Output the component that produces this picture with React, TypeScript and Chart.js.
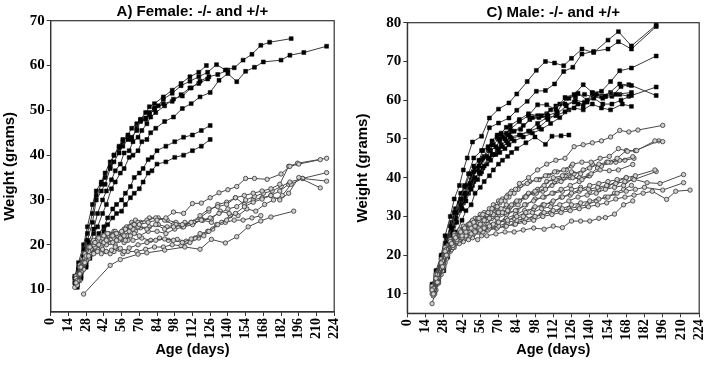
import React, { useEffect, useRef } from 'react';
import { Chart, registerables } from 'chart.js';
Chart.register(...registerables);

type Pt = [number, number];

const SANS = '"Liberation Sans", Arial, sans-serif';
const SERIF = '"Liberation Serif", "Times New Roman", serif';

// ---------- Female: filled squares ----------
const femaleSq1: Pt[] = [[19,11.5],[22,14.5],[26,17.5],[29,21],[33,25],[36,30],[40,32],[43,33.5],[47,37],[50,38.5],[54,40.5],[57,42],[61,43.5],[64,44],[68,45.5],[71,47.8],[75,48.3],[78,49.5],[82,50.5],[85,51],[89,52.5],[96,53.8],[103,55.5],[110,56.5],[117,57.5],[124,58.5],[131,60.2],[138,59],[145,59.5],[152,61.2],[159,62.5],[166,64.5],[173,65.2],[190,66]];
const femaleSq2: Pt[] = [[20,11],[23,13],[27,16],[30,19.5],[34,22.5],[37,24],[41,27],[44,29],[48,32.5],[51,34],[55,36],[58,37],[62,39.5],[65,40],[69,41],[72,43],[76,43.5],[79,45],[83,46],[90,47.5],[97,48.5],[104,50.4],[111,51.5],[118,53],[126,54],[133,56.7],[140,58.2],[147,56.4],[154,58.7],[161,59.6],[168,60.8],[182,61.2],[189,62.3],[200,62.9],[218,64.3]];
const femaleSq3: Pt[] = [[19,12.5],[22,15],[26,19],[29,22.5],[33,27],[36,31],[40,33.5],[43,35],[47,37.5],[50,40],[54,42],[57,43.5],[61,44],[64,43.5],[68,46],[71,48],[75,49.5],[78,50.8],[82,51.5],[89,53],[96,54.5],[103,56],[110,57.5],[117,58.5],[123,60]];
const femaleSq4: Pt[] = [[20,12],[23,14],[27,17],[30,20.5],[34,23.5],[37,27],[41,30],[44,32],[48,34.5],[51,36.5],[55,38],[58,40.5],[62,41],[65,43],[69,44],[72,45.5],[76,47],[79,48.5],[83,49.5],[90,51],[97,52.5],[104,53.2],[111,55],[118,56.5],[125,57.5],[132,58],[140,59]];
const femaleSq5: Pt[] = [[21,11],[24,13],[28,15.5],[31,18],[35,20.5],[38,22.5],[42,24],[45,26],[49,28],[52,29],[56,30],[59,31.5],[63,33],[66,35],[70,36],[73,37],[77,39],[80,39.5],[84,41],[91,42],[98,43],[105,44],[112,44.5],[119,45.5],[126,46.6]];
const femaleSq6: Pt[] = [[21,10.5],[24,12.5],[28,15],[31,17],[35,19.5],[38,21],[42,23],[45,24.5],[49,26],[52,27],[56,27.5],[59,29],[63,30.5],[66,31.5],[70,32.5],[73,34],[77,36],[80,36.5],[84,38],[91,38.5],[98,39.5],[105,40],[112,41],[119,42],[126,43.5]];
const femaleSq7: Pt[] = [[19,13],[22,16],[26,20],[29,24],[33,29],[36,32],[40,34],[43,36],[47,38.5],[50,40],[54,41.5],[57,43],[61,44.5],[64,46],[68,47],[71,47.5],[75,48],[78,49],[82,50.2],[89,51.5],[96,52],[103,53.5],[110,55],[117,56],[124,57]];

// ---------- Female: open circles ----------
const femaleCirc1: Pt[] = [[26,9],[47,15.4],[55,16.7],[69,17.9],[76,18.2],[90,18.8],[106,19.5],[118,19],[127,21.2],[138,20.4],[147,21.8],[156,24],[166,25.3],[174,26.2],[192,27.5]];
const femaleCirc2: Pt[] = [[20,11.5],[23,13.5],[27,16],[30,17.5],[34,18],[37,18.5],[41,19],[44,18.5],[48,18.8],[51,19.5],[55,19.2],[58,18.5],[62,19.3],[69,20],[76,20.5],[83,21],[90,21.3],[97,21],[104,20.5],[111,21.3],[118,22.5],[125,23],[132,24.5],[139,25.5],[146,27],[153,28.5],[160,29.5],[167,30.2],[174,31],[181,30],[188,31.5],[196,35],[213,32.7]];
const femaleCirc3: Pt[] = [[21,12],[24,15],[28,17.5],[31,19.5],[35,20.5],[38,21.5],[42,22],[45,22.5],[49,22],[52,22.5],[56,23],[59,23.5],[63,24],[66,24.5],[70,24.5],[77,25],[84,25.5],[91,26],[97,27.3],[105,27],[112,29.2],[119,29.3],[126,30.5],[133,31.6],[140,32.3],[147,33],[154,34.8],[161,34.8],[171,34.6],[182,35.8],[189,37.5],[196,38],[213,39]];
const femaleCirc4: Pt[] = [[20,12.5],[23,15],[27,17],[30,18.5],[34,20],[37,21],[41,21.5],[44,21],[48,22],[51,22.5],[55,21.5],[58,22],[62,23],[65,23.5],[69,24],[76,23.5],[83,24.5],[90,23.5],[97,24],[104,24.5],[111,25],[118,26.5],[125,28],[132,28.5],[139,29],[146,30.5],[153,31],[160,31.5],[167,32],[174,32.5],[181,33.5],[188,37.5],[195,38.2],[218,39.3]];
const femaleCirc5: Pt[] = [[21,11],[24,14],[28,16.5],[31,18],[35,19.5],[38,20],[42,20.5],[45,21],[49,20.5],[52,21],[56,21.5],[59,21],[63,22],[66,22.5],[70,22],[77,23],[84,23],[91,22.5],[98,23.5],[105,24],[112,24.5],[119,25.5],[126,26],[133,27],[140,28],[147,28.5],[154,30],[161,30.8],[168,31.5],[175,32],[182,33],[189,34],[199,34.8],[218,36.1]];
const femaleCirc6: Pt[] = [[22,12],[25,15.5],[29,17.5],[32,19],[36,20],[39,21],[43,21.5],[46,22],[50,21.5],[53,22],[57,22.5],[60,22],[64,23.5],[67,23],[71,23.8],[78,24],[85,24.5],[92,24],[99,24.5],[106,25],[113,25],[120,25.5],[127,25.8],[134,27.5],[141,27],[148,26.5],[155,28],[162,27.5],[169,29],[176,30],[183,31],[190,33.5],[199,34.8],[218,34.2]];
const femaleCirc7: Pt[] = [[20,13],[23,15.5],[27,18],[30,19.5],[34,21],[37,21.5],[41,22],[44,22.5],[48,22],[51,23],[55,22.5],[58,23.5],[62,24],[65,24.5],[69,25],[76,25.5],[83,26],[90,25.5],[97,24.5],[104,24],[111,25],[118,26],[125,27.5],[132,29],[139,29.5],[146,30.5],[153,29],[160,30],[167,30.5],[174,31],[181,32],[188,33.5]];
const femaleCirc8: Pt[] = [[22,13],[25,16],[29,18],[32,19.5],[36,21],[39,21.5],[43,22],[46,22.5],[50,23],[53,22.5],[57,23],[60,24],[64,25],[67,25.5],[71,25],[78,26],[85,26],[92,25.5],[99,25],[106,24.5],[113,25],[120,25.5],[127,25]];
const femaleCirc9: Pt[] = [[23,12],[26,14.5],[30,17],[33,18],[37,19],[40,19.5],[44,20],[47,20.5],[51,20],[54,21],[58,20.5],[61,21],[65,21],[72,21.5],[79,21],[86,21.5],[93,21],[100,21.2],[107,20.8],[114,21.5],[121,22],[128,23.5],[135,25],[142,26.5]];
const femaleCirc10: Pt[] = [[19,10.5],[22,13],[26,15.5],[29,17],[33,18],[36,18.5],[40,18],[43,18.5],[47,18],[50,18.5],[54,19],[57,18],[61,18.5],[68,18.5],[75,19],[82,19.5],[89,19.5],[96,20],[103,19.8],[110,20.5],[117,21.5],[124,23],[131,24.5],[138,25],[145,25.5],[152,25.5],[159,26],[166,26.5]];

// ---------- Male: filled squares ----------
const maleSq1: Pt[] = [[19,12],[22,16],[26,20],[29,25],[33,30],[36,34.5],[40,38],[43,42],[46,45.1],[50,49.2],[57,50.7],[63,55.4],[70,57.7],[78,59.3],[84,61.6],[92,64.8],[99,67.7],[106,70],[113,69.6],[120,68.9],[126,70.8],[134,73.2],[143,72.3],[154,75.5],[162,77.7],[172,74],[191,79.4]];
const maleSq2: Pt[] = [[20,11.5],[23,15],[27,19],[30,23],[34,27],[37,31],[41,34.5],[44,38],[47,41],[51,45.1],[57,47],[63,52.9],[70,54.1],[78,55.4],[84,57.4],[92,59.7],[99,62.3],[106,62.5],[113,64.2],[120,67.4],[127,68.5],[134,71.9],[143,72.6],[154,73.2],[162,75.1],[172,73.2],[191,79]];
const maleSq3: Pt[] = [[20,11],[23,14],[27,18],[30,21.5],[34,26],[37,29.5],[41,33],[44,36],[48,38.5],[51,41.5],[55,43],[58,45],[62,47.5],[65,48.5],[69,50.5],[72,51.2],[76,51.5],[79,52.5],[86,54.5],[93,56],[100,58.8],[107,58.8],[114,57.6],[121,60.7],[128,61.5],[135,64],[142,62],[149,62.3],[156,64.8],[163,67.6],[172,68.3],[191,71.4]];
const maleSq4: Pt[] = [[19,12.5],[22,15],[26,19.5],[29,23],[33,27.5],[36,31],[40,33.5],[43,36],[47,38],[50,40.5],[54,42.5],[57,44.5],[61,45.5],[64,47],[68,48],[71,49.5],[75,50],[78,51],[82,52],[89,53.5],[96,55.5],[103,56],[110,57.5],[117,59],[124,60.5],[131,61.8],[138,60],[145,61.5],[152,61],[163,64.2],[172,63.8],[191,61.2]];
const maleSq5: Pt[] = [[21,11],[24,13.5],[28,17],[31,21],[35,25],[38,28.5],[42,32],[45,34],[49,37],[52,40],[56,41],[59,43],[63,45],[66,46],[70,47.5],[73,48],[77,49],[80,50],[87,51],[94,52],[101,53],[108,55],[115,56.5],[122,58.5],[129,60],[136,59.5],[143,60.5],[150,59],[157,59],[164,60],[172,61.2],[191,63.4]];
const maleSq6: Pt[] = [[20,12],[23,14.5],[27,18.5],[30,22],[34,26.5],[37,30],[41,32],[44,35],[48,37.5],[51,39],[55,41.5],[58,42.5],[62,45],[65,46],[69,47],[72,48.5],[76,49.5],[79,50.5],[86,51],[93,52],[100,54],[107,55.5],[114,56],[121,57],[128,58],[135,57.5],[142,59],[149,58],[156,57.5],[165,59],[172,58.4]];
const maleSq7: Pt[] = [[21,10.5],[24,13],[28,16],[31,19.5],[35,23],[38,26],[42,29],[45,31.5],[49,33],[52,36],[56,37.5],[59,39],[63,40.5],[66,42],[70,43.5],[73,44.5],[77,45.5],[80,46.5],[84,47.5],[91,49],[98,50.5],[106,48.6],[111,50.7],[118,50.8],[124,51]];
const maleSq8: Pt[] = [[19,11],[22,14],[26,17.5],[29,21],[33,25],[36,28.5],[40,31.5],[43,33.5],[47,36],[50,38],[54,39.5],[57,41.5],[61,43.5],[64,44.5],[68,46],[71,46.5],[75,47.5],[78,48.5],[82,49.5],[89,50.5],[96,51.5],[103,52.5],[110,54],[117,55.5],[124,57.5],[131,59],[138,59.5],[145,61.5],[152,61],[160,61.5],[172,62]];
const maleSq9: Pt[] = [[20,12.5],[23,16],[27,20],[30,24],[34,28.5],[37,32],[41,36],[44,37.5],[48,41],[51,43],[55,44.5],[58,47],[62,48],[65,49.5],[69,51],[72,51.5],[76,53],[79,53.5],[86,55],[93,56.5],[100,56],[107,56.5],[114,58.5],[121,59],[128,59.5],[135,58.5],[142,61.8],[149,61],[156,62],[163,61.5],[170,61]];
const maleSq10: Pt[] = [[21,12],[24,15.5],[28,19.5],[31,23],[35,27.5],[38,31],[42,34.5],[45,36],[49,39.5],[52,42],[56,44],[59,45.5],[63,47],[66,48.5],[70,50],[73,50.5],[77,51],[80,52],[87,52.5],[94,55],[101,55.5],[108,56],[115,57],[122,60.5],[129,61],[136,61.5],[143,60.8],[150,60.5],[157,61],[164,63.5],[170,64]];

// ---------- Male: open circles ----------
const maleCirc1: Pt[] = [[20,10],[23,13],[27,17],[30,20],[34,23],[37,24.5],[41,26],[44,27],[48,28],[51,28.5],[55,29.5],[58,30.5],[62,31],[65,32],[69,32.5],[72,34],[76,35],[79,36],[83,37],[86,38.5],[93,40],[100,42],[107,43.5],[114,44.5],[121,45],[128,48],[135,48.5],[142,49],[149,49.5],[156,50.5],[163,52.2],[170,51.8],[177,52.3],[196,53.5]];
const maleCirc2: Pt[] = [[19,11],[22,14],[26,18],[29,21],[33,23.5],[36,25],[40,26.5],[43,27.5],[47,28],[50,29],[54,29.5],[57,30],[61,30.5],[64,31],[68,32.5],[71,33.5],[75,34],[78,35],[82,36],[85,37],[92,38.5],[99,39.5],[106,40.5],[113,41.5],[120,42],[127,43.5],[134,44],[141,44],[148,45],[155,45.5],[162,47.5],[169,46.8],[176,47],[190,49.5],[196,49.3]];
const maleCirc3: Pt[] = [[21,10],[24,13],[28,17],[31,20],[35,22.5],[38,24],[42,25],[45,26],[49,27],[52,27.5],[56,28],[59,29],[63,29.5],[66,30.5],[70,31],[73,31],[77,31.5],[80,33],[84,34],[91,35],[98,36.5],[105,38],[112,40],[119,40.5],[126,41.5],[133,41],[140,42.5],[147,43.5],[154,44],[161,45],[168,47],[175,47],[193,49.5]];
const maleCirc4: Pt[] = [[20,11.5],[23,15],[27,18.5],[30,21.5],[34,23],[37,25],[41,26],[44,26.5],[48,27.5],[51,28],[55,29],[58,29.5],[62,30],[65,30],[69,31],[72,32],[76,33],[79,32.5],[86,34],[93,36],[100,37],[107,39],[114,39.5],[121,40.5],[128,41],[135,42],[142,43.5],[149,43],[156,44],[163,44.5],[173,45.4]];
const maleCirc5: Pt[] = [[19,12],[22,15],[26,19],[29,22],[33,24],[36,25.5],[40,26],[43,27],[47,27],[50,28],[54,28.5],[57,29],[61,29],[64,30],[68,30.5],[71,31.5],[75,31],[78,32],[85,33],[92,35.5],[99,36],[106,37],[113,39],[120,40],[127,40],[134,39.5],[141,41],[148,42],[155,41.8],[162,42],[173,43.4]];
const maleCirc6: Pt[] = [[21,11],[24,14],[28,17.5],[31,20.5],[35,22],[38,23.5],[42,24.5],[45,25],[49,25.5],[52,26],[56,26.5],[59,27],[63,27.5],[66,28],[70,28.5],[77,29],[84,30],[91,31],[98,32.5],[105,33],[112,34],[119,35],[126,36],[133,37],[140,38],[147,38.5],[154,39],[161,39.5],[168,40],[175,40.5],[190,42]];
const maleCirc7: Pt[] = [[20,10.5],[23,14],[27,17],[30,20],[34,22.5],[37,23.5],[41,24.5],[44,25.5],[48,26],[51,26.5],[55,27],[58,27],[62,28],[69,28.5],[76,29.5],[83,30.5],[90,31.5],[97,32],[104,33],[111,33.5],[118,35],[125,35.5],[132,36.5],[139,37],[146,37.5],[153,38],[160,38.5],[167,39],[174,39.5],[191,41.6]];
const maleCirc8: Pt[] = [[19,10],[22,13],[26,16.5],[29,19.5],[33,22],[36,23],[40,24],[43,25],[47,25.5],[50,26],[54,26.5],[57,27],[61,27.5],[68,28],[75,29],[82,29.5],[89,30],[96,31],[103,32],[110,32.5],[117,33],[124,34],[131,35],[138,35.5],[145,36],[152,37],[159,37.5],[166,38],[173,39.7],[184,38.7],[194,38.5],[212,40.8]];
const maleCirc9: Pt[] = [[21,12],[24,15.5],[28,19],[31,21.5],[35,23],[38,24],[42,24.5],[45,25.5],[49,26],[52,26],[56,26.5],[59,27],[63,27],[70,27.5],[77,28.5],[84,29],[91,29.5],[98,30],[105,31],[112,31.5],[119,32],[126,33],[133,33.5],[140,34],[147,34.5],[154,35],[161,36],[168,36.5],[175,37],[182,37.5],[196,36.8],[212,38.7]];
const maleCirc10: Pt[] = [[20,9.5],[23,12.5],[27,16],[30,19],[34,21.5],[37,23],[41,24],[44,24.5],[48,25],[51,25.5],[55,26],[58,26],[62,26.5],[69,27],[76,27.5],[83,28],[90,28.5],[97,29],[104,30],[111,30.5],[118,31],[125,31.5],[132,32],[139,32.5],[146,33],[153,33.5],[160,34.5],[167,35],[174,35.5],[181,36],[188,36.5],[199,34.4],[206,36.5],[217,36.8]];
const maleCirc11: Pt[] = [[19,7.5],[22,11],[26,15],[29,18],[33,21],[36,22],[40,23],[43,23.5],[47,24],[50,24.5],[54,24],[57,25],[61,25],[68,25.5],[75,26],[82,26],[89,26.5],[97,27],[105,26.7],[112,27.5],[119,27.1],[126,28.8],[133,28.8],[140,28.8],[147,29.5],[152,29.7],[159,30.6],[166,33],[173,34]];
const maleCirc12: Pt[] = [[21,10.5],[24,14],[28,18],[31,21],[35,23.5],[38,25],[42,26.5],[45,27.5],[49,28.5],[52,29.5],[56,30.5],[59,31],[63,32],[66,33],[70,34],[73,34.5],[77,35.5],[80,36.5],[87,38],[94,39],[101,39.5],[108,40.5],[115,41.5],[122,42],[126,43]];
const maleCirc13: Pt[] = [[20,11],[23,14.5],[27,18],[30,20.5],[34,22],[37,23.5],[41,25],[44,26],[48,27],[51,27],[55,28],[58,28.5],[62,29],[65,29.5],[69,29.5],[76,30.5],[83,31.5],[90,33],[97,34],[104,35],[111,36],[118,37],[125,38],[132,39],[140,40.5]];
const maleCirc14: Pt[] = [[19,11.5],[22,14.5],[26,18],[29,21],[33,22.5],[36,23.5],[40,24.5],[43,25],[47,25.5],[50,25],[54,26],[57,26.5],[61,26.5],[68,27],[75,27.5],[82,28],[89,29],[96,29.5],[103,30.5],[110,31],[117,31.5],[124,32],[131,32.5],[138,33],[145,34],[152,35],[159,36],[166,37],[172,38]];
const maleCirc15: Pt[] = [[21,12.5],[24,16],[28,20],[31,22.5],[35,24],[38,25],[42,26],[45,27],[49,27.5],[52,28],[56,28.5],[59,29],[63,30],[70,30.5],[77,31],[84,31.5],[91,33],[98,34.5],[105,35],[112,36],[119,36.5],[126,37],[133,37.5],[140,36.5],[147,37],[154,38],[161,39],[168,40]];
const maleCirc16: Pt[] = [[20,12],[23,15.5],[27,19],[30,22],[34,24],[37,25.5],[41,26.5],[44,27],[48,27],[51,28.5],[55,29],[58,29.5],[62,30.5],[65,31.5],[69,32],[76,32.5],[83,33.5],[90,35],[97,36],[104,36.5],[111,38],[118,39],[125,40],[132,40],[139,40.5],[146,42.5],[153,44],[160,44],[167,44.5],[174,45]];

const xTickStep = 14;
const xMax = 224;
const femaleYTicks = [10, 20, 30, 40, 50, 60, 70];
const maleYTicks = [10, 20, 30, 40, 50, 60, 70, 80];

const femaleSquares = [femaleSq1, femaleSq2, femaleSq3, femaleSq4, femaleSq5, femaleSq6, femaleSq7];
const femaleCircles = [femaleCirc1, femaleCirc2, femaleCirc3, femaleCirc4, femaleCirc5, femaleCirc6, femaleCirc7, femaleCirc8, femaleCirc9, femaleCirc10];
const maleSquares = [maleSq1, maleSq2, maleSq3, maleSq4, maleSq5, maleSq6, maleSq7, maleSq8, maleSq9, maleSq10];
const maleCircles = [maleCirc1, maleCirc2, maleCirc3, maleCirc4, maleCirc5, maleCirc6, maleCirc7, maleCirc8, maleCirc9, maleCirc10, maleCirc11, maleCirc12, maleCirc13, maleCirc14, maleCirc15, maleCirc16];

const framePlugin = {
  id: 'frame',
  afterDatasetsDraw(chart: any) {
    const { ctx, chartArea: a } = chart;
    ctx.save();
    ctx.strokeStyle = '#333';
    ctx.lineWidth = 1.2;
    ctx.strokeRect(a.left, a.top, a.right - a.left, a.bottom - a.top);
    ctx.restore();
  },
};

const toXY = (arr: Pt[]) => arr.map(([x, y]) => ({ x, y }));

const squareSet = (arr: Pt[]) => ({
  data: toXY(arr),
  borderColor: '#3a3a3a',
  borderWidth: 1,
  pointStyle: 'rect',
  pointRadius: 2.8,
  pointBackgroundColor: '#000',
  pointBorderColor: '#000',
  pointBorderWidth: 0.5,
  tension: 0,
});

const circleSet = (arr: Pt[]) => ({
  data: toXY(arr),
  borderColor: '#4a4a4a',
  borderWidth: 1,
  pointStyle: 'circle',
  pointRadius: 2.2,
  pointBackgroundColor: '#cfcfcf',
  pointBorderColor: '#333',
  pointBorderWidth: 0.8,
  tension: 0,
});

interface PanelProps {
  left: number;
  width: number;
  title: string;
  yMax: number;
  yTicks: number[];
  squares: Pt[][];
  circles: Pt[][];
  yAxisWidth: number;
  xAxisHeight: number;
  titlePadTop: number;
  titlePadBottom: number;
  padRight: number;
}

function Panel(p: PanelProps) {
  const ref = useRef<HTMLCanvasElement>(null);
  useEffect(() => {
    const chart = new Chart(ref.current as HTMLCanvasElement, {
      type: 'line',
      data: {
        datasets: [...p.circles.map(circleSet), ...p.squares.map(squareSet)] as any,
      },
      options: {
        responsive: false,
        animation: false,
        events: [],
        layout: { padding: { left: 0, right: p.padRight, top: 0, bottom: 0 } },
        plugins: {
          legend: { display: false },
          tooltip: { enabled: false },
          title: {
            display: true,
            text: p.title,
            fullSize: false,
            color: '#000',
            font: { family: SANS, size: 15, weight: 'bold', lineHeight: 1.1 },
            padding: { top: p.titlePadTop, bottom: p.titlePadBottom },
          },
        },
        scales: {
          x: {
            type: 'linear',
            min: 0,
            max: xMax,
            ticks: {
              stepSize: xTickStep,
              autoSkip: false,
              maxRotation: 90,
              minRotation: 90,
              color: '#000',
              padding: 2,
              font: { family: SERIF, size: 14, weight: 'bold' },
            },
            grid: { display: true, drawOnChartArea: false, drawTicks: true, tickLength: 4, color: '#333', lineWidth: 1 },
            border: { display: true, color: '#333', width: 1.2 },
            title: {
              display: true,
              text: 'Age (days)',
              color: '#000',
              font: { family: SANS, size: 14.5, weight: 'bold' },
              padding: { top: 0, bottom: 13 },
            },
            afterFit: (s: any) => { s.height = p.xAxisHeight; },
          },
          y: {
            type: 'linear',
            min: 5,
            max: p.yMax,
            afterBuildTicks: (s: any) => { s.ticks = p.yTicks.map((v) => ({ value: v })); },
            ticks: {
              color: '#000',
              padding: 2,
              font: { family: SERIF, size: 15, weight: 'bold' },
            },
            grid: { display: true, drawOnChartArea: false, drawTicks: true, tickLength: 4, color: '#333', lineWidth: 1 },
            border: { display: true, color: '#333', width: 1.2 },
            title: {
              display: true,
              text: 'Weight (grams)',
              color: '#000',
              font: { family: SANS, size: 15, weight: 'bold' },
              padding: { top: 1, bottom: 0 },
            },
            afterFit: (s: any) => { s.width = p.yAxisWidth; },
          },
        },
      } as any,
      plugins: [framePlugin],
    });
    return () => chart.destroy();
  }, []);
  return (
    <canvas
      ref={ref}
      width={p.width}
      height={372}
      style={{ position: 'absolute', left: p.left, top: 0, display: 'block' }}
    />
  );
}

export default function App() {
  return (
    <div style={{ position: 'absolute', left: 0, top: 0, width: 718, height: 372, background: '#fff', overflow: 'hidden' }}>
      <Panel
        left={0}
        width={353}
        title="A) Female: -/- and +/+"
        yMax={70}
        yTicks={femaleYTicks}
        squares={femaleSquares}
        circles={femaleCircles}
        yAxisWidth={50.7}
        xAxisHeight={60}
        titlePadTop={4}
        titlePadBottom={0.2}
        padRight={9}
      />
      <Panel
        left={353}
        width={365}
        title="C) Male: -/- and +/+"
        yMax={80}
        yTicks={maleYTicks}
        squares={maleSquares}
        circles={maleCircles}
        yAxisWidth={54.3}
        xAxisHeight={58.7}
        titlePadTop={5}
        titlePadBottom={1.2}
        padRight={16}
      />
    </div>
  );
}
